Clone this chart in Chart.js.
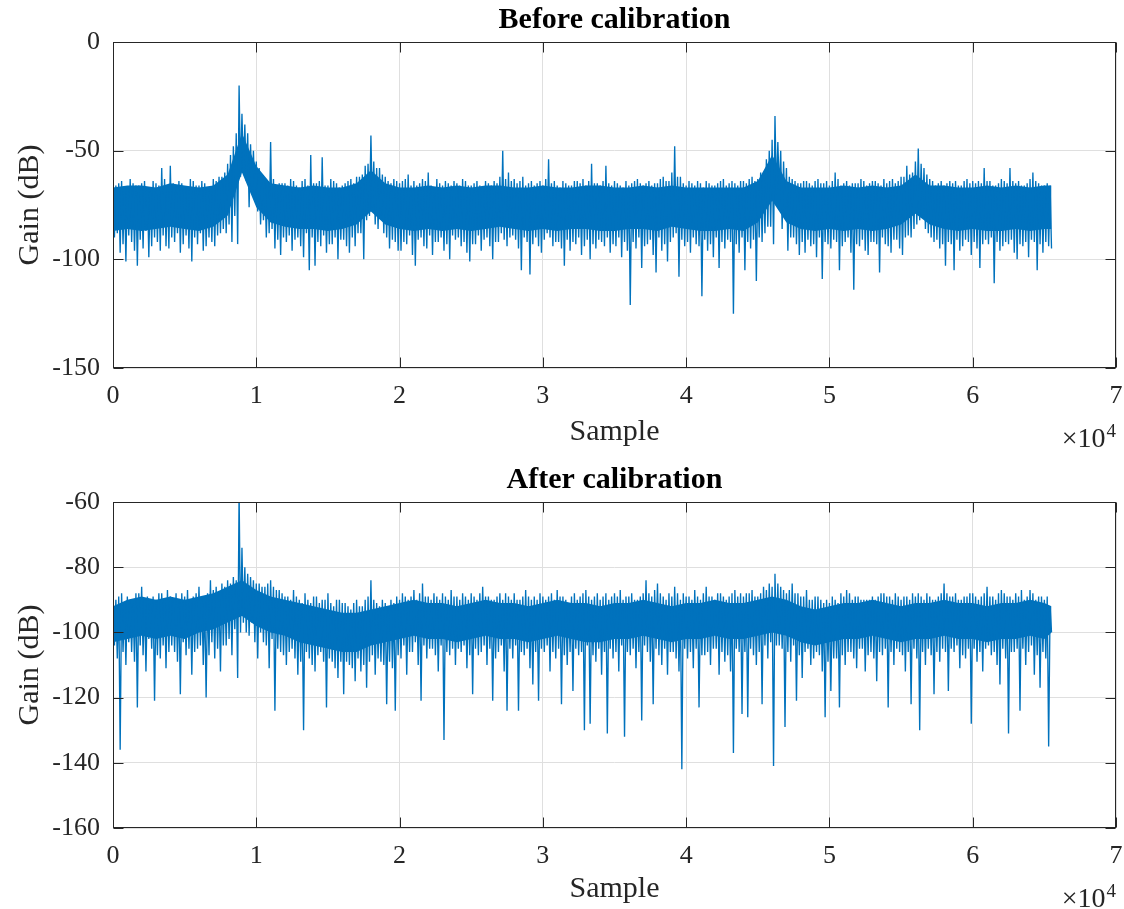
<!DOCTYPE html>
<html><head><meta charset="utf-8">
<script src="https://cdn.jsdelivr.net/npm/chart.js@4.4.1/dist/chart.umd.min.js"></script>
<style>html,body{margin:0;padding:0;background:#fff;}canvas{display:block;}</style>
</head><body>
<canvas id="c1" width="1124" height="455"></canvas>
<canvas id="c2" width="1124" height="454"></canvas>
<script>
// ---- data ----
// each bin covers 200 samples: its highest and lowest gain value (dB)
const binSize = 200;
const bandStep = 1000;      // solid noise-floor core, one value per 1000 samples
const xTickLabels = ['0','1','2','3','4','5','6','7'];
const xExponent = '4';
const xLabel = 'Sample';
const yLabel = 'Gain (dB)';
const titles = ['Before calibration', 'After calibration'];
const beforeYTicks = [-150, -100, -50, 0];
const beforeYLabels = ['-150', '-100', '-50', '0'];
const afterYTicks = [-160, -140, -120, -100, -80, -60];
const afterYLabels = ['-160', '-140', '-120', '-100', '-80', '-60'];

const beforeMax = [
-72,-66,-65,-64,-67,-67,-63,-65,-66,-66,-65,-64,-67,-68,-64,-65,-66,-58,-63,-66,
-57,-65,-66,-64,-65,-67,-67,-63,-64,-66,-66,-64,-65,-67,-67,-63,-64,-62,-62,-60,
-56,-52,-48,-42,-20,-33,-38,-42,-47,-50,-55,-58,-62,-64,-64,-46,-63,-66,-65,-65,
-65,-66,-63,-64,-66,-67,-64,-63,-66,-52,-65,-65,-64,-53,-66,-66,-63,-64,-65,-67,
-66,-65,-64,-63,-65,-62,-62,-61,-57,-56,-43,-55,-58,-58,-61,-62,-64,-65,-63,-64,
-65,-64,-63,-61,-66,-64,-66,-65,-63,-64,-60,-66,-67,-63,-65,-66,-64,-65,-66,-64,
-65,-66,-63,-64,-66,-66,-65,-64,-66,-67,-64,-65,-66,-64,-65,-62,-50,-63,-60,-64,
-63,-65,-64,-62,-66,-65,-64,-66,-65,-64,-66,-63,-54,-65,-64,-66,-67,-64,-65,-66,
-66,-64,-64,-65,-63,-66,-64,-56,-65,-65,-66,-64,-57,-65,-66,-64,-65,-66,-67,-64,
-66,-65,-64,-63,-65,-66,-65,-64,-66,-65,-65,-63,-62,-64,-64,-60,-48,-62,-62,-65,
-66,-64,-65,-66,-64,-65,-67,-64,-65,-66,-66,-65,-64,-63,-66,-65,-64,-65,-66,-64,
-64,-65,-63,-62,-64,-63,-60,-60,-54,-50,-45,-34,-46,-50,-55,-58,-62,-63,-64,-65,
-65,-64,-64,-65,-66,-64,-63,-65,-65,-64,-66,-64,-60,-63,-66,-65,-64,-66,-65,-65,
-65,-63,-64,-66,-65,-64,-64,-65,-66,-63,-65,-64,-63,-65,-64,-62,-62,-57,-61,-60,
-55,-49,-56,-58,-61,-63,-64,-66,-65,-64,-66,-65,-64,-65,-64,-66,-66,-64,-63,-65,
-64,-65,-64,-65,-58,-64,-64,-66,-66,-65,-63,-64,-65,-58,-64,-65,-64,-66,-66,-65,-63,-60,-64,-65,-66,-66,-65,-66
];
const beforeMin = [
-90,-88,-97,-93,-101,-89,-92,-96,-103,-91,-95,-87,-99,-94,-90,-92,-96,-89,-94,-95,
-90,-92,-88,-97,-93,-89,-95,-101,-90,-93,-88,-96,-94,-90,-92,-94,-89,-88,-86,-88,
-84,-92,-80,-93,-62,-60,-64,-76,-70,-72,-78,-84,-82,-90,-88,-86,-95,-91,-98,-90,
-92,-89,-96,-91,-90,-94,-99,-88,-105,-90,-103,-92,-94,-89,-97,-93,-93,-90,-100,-91,
-91,-94,-97,-90,-94,-88,-88,-100,-82,-80,-76,-84,-86,-80,-88,-90,-95,-91,-92,-96,
-96,-92,-93,-89,-98,-103,-91,-90,-94,-95,-89,-98,-92,-92,-90,-96,-93,-100,-89,-91,
-90,-94,-92,-97,-101,-93,-93,-89,-96,-91,-90,-94,-100,-92,-92,-88,-91,-94,-90,-89,
-91,-95,-105,-90,-92,-107,-93,-90,-94,-97,-91,-88,-90,-94,-92,-92,-95,-103,-91,-96,
-92,-93,-90,-98,-94,-91,-100,-93,-95,-91,-92,-94,-90,-97,-93,-94,-90,-99,-92,-96,
-121,-92,-95,-90,-104,-94,-93,-91,-98,-106,-90,-96,-93,-101,-92,-90,-88,-108,-91,-94,
-92,-97,-90,-93,-94,-117,-91,-96,-93,-99,-90,-104,-92,-95,-91,-92,-125,-93,-97,-90,
-105,-92,-95,-91,-110,-90,-92,-88,-85,-85,-93,-70,-68,-86,-80,-96,-90,-90,-93,-98,
-92,-97,-91,-94,-93,-99,-90,-109,-92,-93,-95,-91,-92,-105,-94,-92,-90,-97,-114,-93,
-94,-91,-96,-98,-92,-92,-93,-106,-90,-93,-94,-97,-91,-91,-95,-98,-90,-89,-90,-86,
-84,-82,-80,-86,-88,-90,-92,-91,-95,-93,-103,-92,-93,-105,-91,-96,-94,-91,-92,-98,
-92,-95,-104,-93,-91,-93,-90,-111,-92,-96,-94,-92,-93,-91,-97,-100,-93,-94,-92,-99,-91,-92,-105,-93,-97,-92,-94,-95
];
const afterMax = [
-94,-90,-89,-88,-91,-89,-90,-91,-88,-88,-86,-90,-89,-91,-89,-90,-88,-88,-90,-87,
-89,-90,-88,-90,-88,-89,-87,-90,-89,-88,-86,-89,-90,-88,-84,-87,-86,-88,-85,-86,
-84,-85,-83,-84,-57,-74,-80,-82,-83,-84,-85,-85,-86,-86,-85,-84,-86,-87,-87,-88,
-89,-89,-90,-87,-89,-90,-91,-88,-90,-91,-89,-89,-91,-90,-90,-88,-91,-92,-90,-90,
-91,-91,-92,-93,-91,-90,-92,-92,-90,-89,-84,-90,-91,-92,-90,-91,-92,-90,-91,-89,
-90,-88,-89,-90,-89,-87,-90,-88,-85,-89,-89,-90,-88,-89,-90,-88,-89,-90,-87,-89,
-89,-90,-88,-89,-90,-88,-89,-90,-88,-86,-89,-89,-90,-90,-89,-88,-90,-88,-89,-90,
-88,-90,-90,-89,-87,-89,-90,-89,-90,-88,-89,-90,-89,-88,-90,-87,-89,-89,-90,-91,
-89,-88,-90,-89,-88,-87,-89,-90,-89,-88,-90,-89,-88,-90,-89,-88,-89,-87,-90,-89,
-89,-88,-90,-90,-89,-88,-84,-88,-89,-87,-85,-88,-89,-90,-88,-89,-86,-88,-90,-88,
-89,-89,-90,-87,-89,-90,-88,-86,-89,-89,-90,-88,-88,-89,-90,-89,-88,-87,-89,-88,
-89,-88,-88,-87,-89,-89,-88,-86,-87,-85,-86,-82,-85,-86,-87,-88,-87,-85,-88,-88,
-89,-89,-87,-90,-90,-89,-89,-90,-91,-90,-91,-89,-90,-91,-88,-89,-87,-88,-90,-89,
-89,-90,-90,-90,-90,-89,-90,-89,-88,-88,-89,-89,-90,-88,-89,-90,-89,-89,-90,-88,
-89,-88,-89,-90,-88,-89,-90,-90,-89,-88,-85,-88,-89,-89,-88,-90,-90,-89,-89,-88,
-88,-89,-90,-89,-88,-86,-89,-89,-90,-88,-87,-88,-89,-89,-90,-88,-89,-87,-90,-89,-87,-88,-90,-89,-89,-90,-89,-92
];
const afterMin = [
-104,-108,-136,-106,-110,-103,-106,-109,-123,-104,-107,-112,-102,-105,-121,-107,-108,-104,-111,-106,
-104,-106,-109,-119,-103,-107,-105,-113,-106,-105,-104,-110,-120,-107,-103,-108,-105,-112,-104,-104,
-102,-107,-99,-114,-100,-97,-100,-101,-97,-103,-108,-100,-103,-104,-111,-102,-124,-105,-106,-107,
-110,-106,-105,-108,-113,-109,-130,-106,-108,-110,-112,-107,-106,-109,-123,-108,-109,-111,-114,-109,
-119,-109,-110,-111,-115,-108,-112,-110,-117,-109,-107,-113,-108,-109,-110,-122,-109,-111,-124,-107,
-108,-104,-113,-106,-106,-103,-110,-121,-104,-108,-105,-105,-107,-112,-104,-133,-106,-107,-105,-110,
-105,-106,-104,-111,-107,-119,-105,-107,-106,-104,-110,-105,-121,-108,-106,-104,-112,-124,-105,-108,
-104,-124,-106,-107,-105,-111,-116,-106,-121,-105,-106,-104,-112,-106,-108,-105,-122,-107,-110,-106,
-118,-105,-107,-106,-130,-104,-128,-107,-109,-105,-113,-106,-131,-105,-108,-106,-112,-104,-132,-106,
-107,-105,-111,-106,-127,-104,-106,-109,-122,-105,-107,-110,-105,-113,-106,-106,-108,-112,-142,-105,
-108,-106,-111,-105,-123,-107,-107,-106,-110,-105,-105,-113,-106,-109,-107,-112,-137,-105,-106,-125,
-106,-126,-105,-107,-110,-106,-122,-104,-108,-103,-141,-104,-104,-105,-129,-106,-109,-104,-121,-107,
-114,-106,-105,-110,-108,-106,-107,-112,-126,-109,-118,-108,-108,-123,-107,-110,-106,-106,-108,-111,
-105,-105,-112,-107,-106,-108,-115,-106,-107,-105,-123,-106,-110,-105,-106,-107,-112,-106,-122,-105,
-108,-130,-106,-110,-105,-107,-119,-106,-109,-105,-106,-118,-105,-106,-104,-111,-107,-108,-105,-128,
-105,-109,-106,-112,-105,-104,-107,-106,-110,-116,-105,-108,-131,-106,-106,-105,-124,-105,-110,-106,-104,-113,-107,-117,-106,-108,-135,-100
];
const beforeCoreHigh = [
-67,-66,-66,-67,-65,-66,-67,-66,-61,-42,-57,-65,-66,-67,-66,-67,-67,-65,-59,-65,
-67,-67,-66,-67,-66,-67,-66,-66,-67,-67,-66,-67,-67,-66,-66,-67,-67,-66,-67,-66,
-67,-67,-67,-67,-67,-64,-52,-64,-67,-67,-67,-66,-67,-66,-67,-66,-61,-66,-66,-67,
-67,-66,-67,-66,-67,-66,-66
];
const beforeCoreLow = [
-87,-86,-87,-86,-85,-86,-87,-85,-80,-60,-76,-83,-85,-86,-86,-87,-86,-84,-78,-84,
-86,-87,-86,-87,-86,-87,-86,-85,-86,-87,-86,-87,-86,-86,-87,-87,-86,-86,-87,-85,
-86,-87,-87,-86,-87,-83,-73,-83,-86,-87,-86,-87,-86,-87,-86,-84,-79,-84,-86,-87,
-86,-87,-87,-86,-87,-86,-86
];
const afterCoreHigh = [
-92,-90,-89,-90,-89,-90,-89,-88,-86,-84,-87,-89,-90,-91,-92,-93,-94,-94,-93,-92,
-91,-90,-91,-91,-92,-91,-90,-91,-91,-92,-91,-90,-91,-91,-92,-91,-91,-90,-91,-92,
-91,-91,-90,-91,-91,-90,-89,-90,-92,-93,-92,-91,-91,-90,-91,-92,-91,-91,-90,-91,
-91,-92,-91,-91,-90,-91,-92
];
const afterCoreLow = [
-103,-102,-101,-102,-101,-102,-100,-99,-97,-95,-98,-100,-101,-103,-104,-105,-106,-106,-104,-103,
-102,-101,-102,-102,-103,-102,-101,-102,-102,-103,-102,-101,-102,-103,-103,-102,-102,-101,-102,-103,
-102,-102,-101,-102,-102,-101,-100,-101,-103,-104,-103,-102,-102,-101,-102,-103,-102,-102,-101,-102,
-102,-103,-102,-102,-101,-102,-100
];

// ---- drawing ----
const BLUE = '#0072BD';
const SERIF = '"Liberation Serif", "Times New Roman", serif';
const AXIS = '#262626';

// each bin -> its max at the bin start, its min half a bin later
function binPts(maxArr, minArr) {
  const out = [];
  maxArr.forEach((v, i) => {
    out.push({ x: i * binSize, y: v });
    out.push({ x: i * binSize + binSize / 2, y: minArr[i] });
  });
  return out;
}
function bandPts(arr, last) {
  return arr.map((v, k) => ({ x: Math.min(k * bandStep, last), y: v }));
}

const centerTitle = {
  id: 'centerTitle',
  afterLayout(chart) {
    const t = chart.titleBlock;
    if (t) { t.left = chart.chartArea.left; t.right = chart.chartArea.right; t.width = t.right - t.left; }
  }
};

const frame = {
  id: 'frame',
  afterDraw(chart) {
    const { ctx, chartArea: a, scales: { x, y } } = chart;
    ctx.save();
    ctx.strokeStyle = AXIS;
    ctx.lineWidth = 1;
    const L = Math.round(a.left) + 0.5, R = Math.round(a.right) - 0.5;
    const T = Math.round(a.top) + 0.5, B = Math.round(a.bottom) - 0.5;
    ctx.beginPath();
    x.ticks.forEach(t => {
      const p = Math.round(x.getPixelForValue(t.value)) + 0.5;
      ctx.moveTo(p, B); ctx.lineTo(p, B - 10);
      ctx.moveTo(p, T); ctx.lineTo(p, T + 10);
    });
    y.ticks.forEach(t => {
      const p = Math.round(y.getPixelForValue(t.value)) + 0.5;
      ctx.moveTo(L, p); ctx.lineTo(L + 10, p);
      ctx.moveTo(R, p); ctx.lineTo(R - 10, p);
    });
    ctx.stroke();
    ctx.strokeRect(L, T, R - L, B - T);
    // x10^4 exponent label
    ctx.fillStyle = AXIS;
    ctx.textBaseline = 'alphabetic';
    ctx.font = '19px ' + SERIF;
    const supW = ctx.measureText(xExponent).width;
    ctx.textAlign = 'left';
    ctx.fillText(xExponent, a.right - supW, a.bottom + 69);
    ctx.font = '28px ' + SERIF;
    ctx.textAlign = 'right';
    ctx.fillText('\u00D710', a.right - supW - 1, a.bottom + 79);
    ctx.restore();
  }
};

function makeChart(id, title, maxArr, minArr, hi, lo, yVals, yLabs, titlePadTop, xAxisHeight, xTitlePadBottom) {
  const line = binPts(maxArr, minArr);
  const last = line[line.length - 1].x;
  return new Chart(document.getElementById(id), {
    type: 'line',
    data: {
      datasets: [
        { data: line, borderColor: BLUE, borderWidth: 1.35, pointRadius: 0, fill: false, tension: 0 },
        { data: bandPts(hi, last), borderColor: 'rgba(0,0,0,0)', borderWidth: 0, pointRadius: 0, fill: '+1', backgroundColor: BLUE, tension: 0 },
        { data: bandPts(lo, last), borderColor: 'rgba(0,0,0,0)', borderWidth: 0, pointRadius: 0, fill: false, tension: 0 }
      ]
    },
    options: {
      animation: false, responsive: false, events: [],
      layout: { padding: { left: 0, right: 8, top: 0, bottom: 0 } },
      plugins: {
        legend: { display: false }, tooltip: { enabled: false },
        title: { display: true, text: title, color: '#000', font: { family: SERIF, size: 30, weight: 'bold' }, padding: { top: titlePadTop, bottom: 4 } }
      },
      scales: {
        x: {
          type: 'linear', min: 0, max: 70000,
          ticks: { stepSize: 10000, autoSkip: false, maxRotation: 0, padding: 13, color: AXIS,
                   font: { family: SERIF, size: 26 },
                   callback: v => xTickLabels[Math.round(v / 10000)] },
          grid: { color: '#dfdfdf', lineWidth: 1, drawTicks: false },
          border: { display: false },
          title: { display: true, text: xLabel, color: AXIS, font: { family: SERIF, size: 30 }, padding: { top: 0, bottom: xTitlePadBottom } },
          afterFit(s) { s.height = xAxisHeight; s.paddingLeft = 0; s.paddingRight = 0; }
        },
        y: {
          min: yVals[0], max: yVals[yVals.length - 1],
          ticks: { stepSize: yVals[1] - yVals[0], padding: 13, color: AXIS,
                   font: { family: SERIF, size: 26 },
                   callback: v => { const i = yVals.indexOf(v); return i >= 0 ? yLabs[i] : ''; } },
          grid: { color: '#dfdfdf', lineWidth: 1, drawTicks: false },
          border: { display: false },
          title: { display: true, text: yLabel, color: AXIS, font: { family: SERIF, size: 30 }, padding: { top: 12, bottom: 0 } },
          afterFit(s) { s.width = 113; s.paddingTop = 0; s.paddingBottom = 0; }
        }
      }
    },
    plugins: [centerTitle, frame]
  });
}

function fixRight(chart, target) {
  const d = chart.chartArea.right - target;
  if (Math.abs(d) > 0.2) {
    chart.options.layout.padding.right = Math.max(0, chart.options.layout.padding.right + d);
    chart.update();
  }
}

const c1 = makeChart('c1', titles[0], beforeMax, beforeMin, beforeCoreHigh, beforeCoreLow, beforeYTicks, beforeYLabels, 2, 87, 5);
const c2 = makeChart('c2', titles[1], afterMax, afterMin, afterCoreHigh, afterCoreLow, afterYTicks, afterYLabels, 7, 81, 2);
fixRight(c1, 1116);
fixRight(c2, 1116);
</script>
</body></html>
